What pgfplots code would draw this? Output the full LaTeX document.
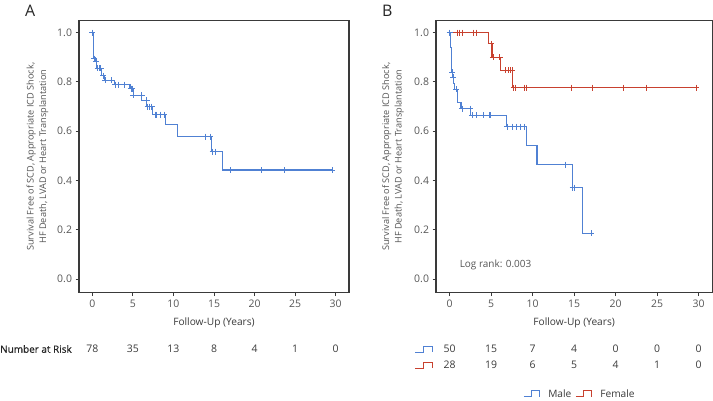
\documentclass[border=0pt]{standalone}
\usepackage{fontspec}
\setmainfont{Open Sans}
\newfontface\semib{Open Sans}[FakeBold=0.8]
\usepackage{pgfplots}
\usepackage{pgfplotstable}
\pgfplotsset{compat=1.18}
\definecolor{kmblue}{HTML}{5081D3}
\definecolor{kmred}{HTML}{C8412F}
\definecolor{axgray}{HTML}{3A3A3A}
\definecolor{txtgray}{HTML}{555555}

\pgfplotstableread{
x y
0     1.000
0.10  0.962
0.20  0.897
0.40  0.882
0.55  0.855
1.15  0.825
1.45  0.806
2.70  0.789
4.65  0.772
5.05  0.746
6.10  0.725
6.70  0.699
7.45  0.667
9.05  0.626
10.50 0.578
14.70 0.517
16.00 0.442
29.60 0.442
}\curveA
\pgfplotstableread{
x y
0     1.000
0.25  0.894
0.45  0.882
0.67  0.855
0.87  0.855
1.03  0.855
1.36  0.825
1.57  0.806
2.39  0.806
2.80  0.789
3.21  0.789
3.91  0.789
4.77  0.772
4.94  0.772
5.06  0.746
6.09  0.746
6.70  0.725
6.83  0.699
6.99  0.699
7.32  0.699
7.73  0.667
7.94  0.667
8.35  0.667
8.84  0.667
13.89 0.578
14.51 0.578
14.84 0.517
15.12 0.517
17.05 0.442
20.79 0.442
23.67 0.442
29.58 0.442
}\censA
\pgfplotstableread{
x y
0     1.000
0.10  0.940
0.22  0.900
0.28  0.839
0.40  0.819
0.52  0.792
0.60  0.769
0.97  0.715
1.37  0.691
2.55  0.664
6.83  0.618
9.24  0.543
10.52 0.464
14.75 0.370
16.03 0.185
17.03 0.185
}\curveMale
\pgfplotstableread{
x y
0     1.000
0.29  0.839
0.41  0.819
0.81  0.769
1.49  0.691
2.49  0.691
2.69  0.664
3.22  0.664
4.02  0.664
4.78  0.664
4.90  0.664
6.91  0.618
7.51  0.618
8.00  0.618
8.52  0.618
9.00  0.618
13.94 0.464
14.83 0.370
15.08 0.370
17.03 0.185
}\censMale
\pgfplotstableread{
x y
0     1.000
4.70  0.954
5.10  0.900
6.10  0.846
7.60  0.776
29.72 0.776
}\curveFemale
\pgfplotstableread{
x y
0.89  1.000
1.21  1.000
1.53  1.000
2.82  1.000
3.22  1.000
4.98  0.954
5.22  0.900
6.03  0.900
6.71  0.846
7.11  0.846
7.31  0.846
7.51  0.846
7.71  0.776
7.91  0.776
9.04  0.776
9.20  0.776
14.66 0.776
17.15 0.776
20.89 0.776
23.70 0.776
29.72 0.776
}\censFemale

\newcommand\tickfont{\fontsize{10.5}{12}\selectfont}
\pgfplotsset{kmaxis/.style={
  scale only axis, height=272bp,
  xmin=-1.64, xmax=31.64, ymin=-0.056, ymax=1.048,
  xtick={0,5,10,15,20,25,30}, ytick={0,0.2,0.4,0.6,0.8,1.0},
  yticklabel style={/pgf/number format/.cd, fixed, fixed zerofill, precision=1},
  /pgf/number format/assume math mode=true,
  tick pos=left, tick align=outside, major tick length=3.5bp,
  axis line style={axgray, line width=1.1bp},
  tick style={axgray, line width=0.8bp},
  tick label style={font=\tickfont, text=txtgray},
  xlabel={Follow-Up (Years)},
  xlabel style={at={(axis description cs:0.5,-0.1125)}, anchor=center, font=\fontsize{10.2}{12}\selectfont, text=axgray},
  ylabel={Survival Free of SCD, Appropriate ICD Shock,\\HF Death, LVAD or Heart Transplantation},
  ylabel style={anchor=center, align=center, font=\fontsize{9.2}{12.5}\selectfont, text=txtgray},
  clip=false,
}}

\begin{document}
\begin{tikzpicture}
% Panel A
\begin{axis}[kmaxis, width=270bp, at={(79bp,-292.7bp)}, anchor=south west,
  ylabel style={at={(axis description cs:-0.1537,0.5)}}]
  \addplot[const plot, kmblue, line width=1.1bp] table[x=x,y=y] {\curveA};
  \addplot[only marks, mark=+, mark size=3bp, kmblue, mark options={line width=0.9bp}] table[x=x,y=y] {\censA};
  \foreach \xx/\nn in {0/78,5/35,10/13,15/8,20/4,25/1,30/0}{
    \edef\tmp{\noexpand\node[font=\noexpand\tickfont, text=axgray] at (axis cs:\xx,-0.285) {\nn};}\tmp
  }
\end{axis}
\node[anchor=west, font=\fontsize{10}{12}\selectfont\semib, text=black!85, inner sep=0pt] at (0bp,-349bp) {Number at Risk};
\node[anchor=base west, font=\fontsize{16}{18}\selectfont, text=black!85, inner sep=0pt] at (25bp,-16.5bp) {A};

% Panel B
\begin{axis}[kmaxis, width=276.3bp, at={(436bp,-292.7bp)}, anchor=south west,
  ylabel style={at={(axis description cs:-0.1556,0.5)}},
  legend style={at={(axis description cs:0.521,-0.372)}, anchor=center, draw=none, fill=none,
    legend columns=2, font=\fontsize{10.2}{12}\selectfont, text=axgray,
    /tikz/every even column/.append style={column sep=2bp},
    /tikz/every odd column/.append style={column sep=6bp}},
  legend image code/.code={\draw[#1, line width=1bp] (0bp,-3bp) -- (8bp,-3bp) -- (8bp,3bp) -- (16bp,3bp) -- (16bp,-3bp);}]
  \addplot[const plot, kmblue, line width=1.1bp] table[x=x,y=y] {\curveMale};
  \addlegendentry{Male}
  \addplot[const plot, kmred, line width=1.1bp] table[x=x,y=y] {\curveFemale};
  \addlegendentry{Female}
  \addplot[forget plot, only marks, mark=+, mark size=3bp, kmblue, mark options={line width=0.9bp}] table[x=x,y=y] {\censMale};
  \addplot[forget plot, only marks, mark=+, mark size=3bp, kmred, mark options={line width=0.9bp}] table[x=x,y=y] {\censFemale};
  \node[anchor=west, font=\fontsize{10}{12}\selectfont, text=txtgray] at (axis cs:0.8,0.057) {Log rank: 0.003};
  \foreach \xx/\nn in {0/50,5/15,10/7,15/4,20/0,25/0,30/0}{
    \edef\tmp{\noexpand\node[font=\noexpand\tickfont, text=axgray] at (axis cs:\xx,-0.283) {\nn};}\tmp
  }
  \foreach \xx/\nn in {0/28,5/19,10/6,15/5,20/4,25/1,30/0}{
    \edef\tmp{\noexpand\node[font=\noexpand\tickfont, text=axgray] at (axis cs:\xx,-0.348) {\nn};}\tmp
  }
\end{axis}
\node[anchor=base west, font=\fontsize{16}{18}\selectfont, text=black!85, inner sep=0pt] at (382bp,-16.5bp) {B};
\draw[kmblue, line width=1bp] (415bp,-352bp) -- (423bp,-352bp) -- (423bp,-346bp) -- (432bp,-346bp) -- (432bp,-352bp);
\draw[kmred, line width=1bp] (415bp,-368bp) -- (423bp,-368bp) -- (423bp,-362bp) -- (432bp,-362bp) -- (432bp,-368bp);

\pgfresetboundingbox
\useasboundingbox (0bp,0bp) rectangle (713bp,-401bp);
\end{tikzpicture}
\end{document}
